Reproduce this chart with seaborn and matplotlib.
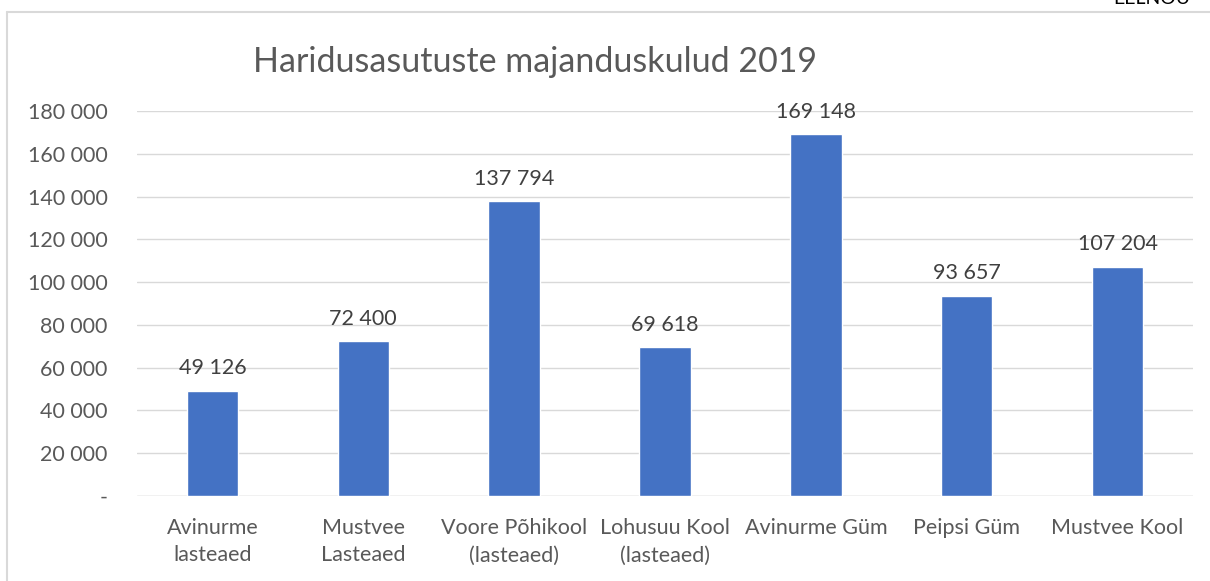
import numpy as np
import pandas as pd
import matplotlib
matplotlib.use("Agg")
import matplotlib.pyplot as plt
from matplotlib.lines import Line2D
import seaborn as sns

# andmed
asutused = ["Avinurme\nlasteaed", "Mustvee\nLasteaed", "Voore Põhikool\n(lasteaed)",
            "Lohusuu Kool\n(lasteaed)", "Avinurme Güm", "Peipsi Güm", "Mustvee Kool"]
kulud = [49126, 72400, 137794, 69618, 169148, 93657, 107204]
y_ticks = [0, 20000, 40000, 60000, 80000, 100000, 120000, 140000, 160000, 180000]

sns.set_theme(style="white")
plt.rcParams['font.family'] = ['Lato', 'DejaVu Sans']

df = pd.DataFrame({'asutus': asutused, 'kulu': kulud})

fig = plt.figure(figsize=(12.1, 5.81), dpi=100)
ax = fig.add_axes([137/1210, 1-496/581, (1193-137)/1210, (496-111)/581])

sns.barplot(data=df, x='asutus', y='kulu', color='#4472C4', width=0.34,
            saturation=1, ax=ax, zorder=3)

def fmt(v):
    return f"{v:,.0f}".replace(",", " ") if v else "-"

ax.set_ylim(0, 180000)
ax.set_yticks(y_ticks)
ax.set_yticklabels([fmt(v) for v in y_ticks], fontsize=15.5, color='#595959')
ax.set_xticklabels(asutused, fontsize=15.5, color='#595959', linespacing=1.45)
ax.tick_params(axis='both', length=0)
ax.tick_params(axis='y', pad=21)
ax.tick_params(axis='x', pad=16)
ax.set_xlabel('')
ax.set_ylabel('')
ax.grid(axis='y', color='#D9D9D9', linewidth=1, zorder=0)
for s in ax.spines.values():
    s.set_visible(False)
ax.axhline(0, color='#D9D9D9', linewidth=1, zorder=1)

for i, v in enumerate(kulud):
    ax.annotate(fmt(v), (i, v), xytext=(0, 9), textcoords='offset points',
                ha='center', va='bottom', fontsize=15.5, color='#404040')

fig.text(535/1210, 1-62/581, "Haridusasutuste majanduskulud 2019", ha='center',
         va='center', fontsize=24.5, color='#595959')

# dokumendi raam
fig.add_artist(Line2D([7/1210, 7/1210], [0, 1-12/581], color='#D9D9D9', lw=1.5,
                      transform=fig.transFigure))
fig.add_artist(Line2D([7/1210, 1], [1-12/581, 1-12/581], color='#D9D9D9', lw=1.5,
                      transform=fig.transFigure))
fig.text(1113/1210, 1-4/581, "EELNÕU", ha='left', va='baseline', fontsize=14,
         color='#000000')

fig.savefig('out.png', dpi=100)
